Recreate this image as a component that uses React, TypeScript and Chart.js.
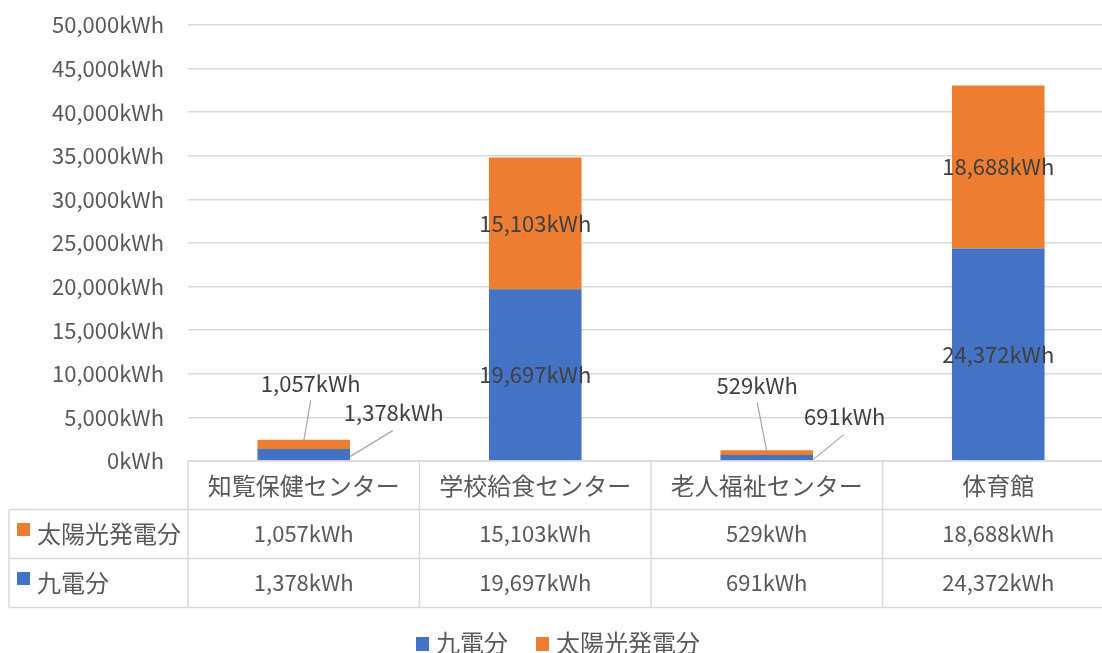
import React, { useEffect, useRef } from "react";
import { Chart, registerables } from "chart.js";

Chart.register(...registerables);

const categories = ["知覧保健センター", "学校給食センター", "老人福祉センター", "体育館"];
const kyudenValues = [1378, 19697, 691, 24372];
const solarValues = [1057, 15103, 529, 18688];
const seriesNames = ["九電分", "太陽光発電分"];
const yTicksMax = 50000;
const yTicksStep = 5000;

const BLUE = "#4472C4";
const ORANGE = "#ED7D31";
const FONT = '"Noto Sans CJK JP", "Noto Sans", sans-serif';
const NUM_FONT = `22px ${FONT}`;
const JP_FONT = `24px ${FONT}`;

const fmt = (v: number) => v.toLocaleString("en-US") + "kWh";

// label offsets for small bars (relative to bar center x / segment middle y)
const smallLabelOffsets: Record<string, [number, number]> = {
  "0-0": [90, -42],
  "1-0": [7, -61],
  "0-2": [78, -41],
  "1-2": [-9.5, -67],
};

const overlayPlugin = {
  id: "overlay",
  afterDatasetsDraw(chart: any) {
    const ctx = chart.ctx;
    const area = chart.chartArea;
    const xs = chart.scales.x;
    ctx.save();
    // data labels
    ctx.font = NUM_FONT;
    ctx.textAlign = "center";
    ctx.textBaseline = "middle";
    chart.data.datasets.forEach((ds: any, di: number) => {
      const meta = chart.getDatasetMeta(di);
      meta.data.forEach((bar: any, i: number) => {
        const top = Math.min(bar.y, bar.base);
        const bottom = Math.max(bar.y, bar.base);
        const midY = (top + bottom) / 2;
        const text = fmt(ds.data[i]);
        const key = `${di}-${i}`;
        const off = smallLabelOffsets[key];
        if (bottom - top < 30 && off) {
          const lx = bar.x + off[0];
          const ly = midY + off[1];
          ctx.strokeStyle = "#A6A6A6";
          ctx.lineWidth = 1.2;
          ctx.beginPath();
          if (di === 1) {
            ctx.moveTo(bar.x, top + 1);
            ctx.lineTo(lx, ly + 17);
          } else {
            ctx.moveTo(bar.x + bar.width / 2, midY + 2);
            ctx.lineTo(lx - 1, ly + 18);
          }
          ctx.stroke();
          ctx.fillStyle = "#404040";
          ctx.fillText(text, lx, ly);
        } else {
          ctx.fillStyle = "#404040";
          ctx.fillText(text, bar.x, midY);
        }
      });
    });

    // data table
    const n = categories.length;
    const colW = (area.right - area.left) / n;
    const tableLeft = 9;
    const rows = [area.bottom, area.bottom + 48.5, area.bottom + 97.5, area.bottom + 146.5];
    ctx.strokeStyle = "#D9D9D9";
    ctx.lineWidth = 1.5;
    ctx.beginPath();
    ctx.moveTo(area.left, rows[0]);
    ctx.lineTo(area.right, rows[0]);
    for (let r = 1; r < rows.length; r++) {
      ctx.moveTo(tableLeft, rows[r]);
      ctx.lineTo(area.right, rows[r]);
    }
    ctx.moveTo(tableLeft, rows[1]);
    ctx.lineTo(tableLeft, rows[3]);
    for (let c = 0; c <= n; c++) {
      const x = area.left + c * colW;
      ctx.moveTo(x, rows[0]);
      ctx.lineTo(x, rows[3]);
    }
    ctx.stroke();

    ctx.fillStyle = "#595959";
    ctx.textAlign = "center";
    ctx.textBaseline = "middle";
    categories.forEach((cat, i) => {
      const cx = xs.getPixelForValue(i);
      ctx.font = JP_FONT;
      ctx.fillText(cat, cx, (rows[0] + rows[1]) / 2 + 1);
      ctx.font = NUM_FONT;
      ctx.fillText(fmt(solarValues[i]), cx, (rows[1] + rows[2]) / 2);
      ctx.fillText(fmt(kyudenValues[i]), cx, (rows[2] + rows[3]) / 2);
    });
    // row headers
    ctx.font = JP_FONT;
    ctx.textAlign = "left";
    const rowSeries = [
      { name: seriesNames[1], color: ORANGE, y: (rows[1] + rows[2]) / 2 },
      { name: seriesNames[0], color: BLUE, y: (rows[2] + rows[3]) / 2 },
    ];
    rowSeries.forEach((s) => {
      ctx.fillStyle = s.color;
      ctx.fillRect(17, s.y - 11, 13, 13);
      ctx.fillStyle = "#595959";
      ctx.fillText(s.name, 37, s.y);
    });

    // legend
    const legendY = 643;
    const sq = 13;
    const gap = 7;
    const spacing = 28;
    const w0 = ctx.measureText(seriesNames[0]).width;
    const w1 = ctx.measureText(seriesNames[1]).width;
    const total = sq + gap + w0 + spacing + sq + gap + w1;
    let x = 558 - total / 2;
    [
      { name: seriesNames[0], color: BLUE, w: w0 },
      { name: seriesNames[1], color: ORANGE, w: w1 },
    ].forEach((it) => {
      ctx.fillStyle = it.color;
      ctx.fillRect(x, legendY - 6, sq, sq + 1);
      ctx.fillStyle = "#595959";
      ctx.fillText(it.name, x + sq + gap, legendY);
      x += sq + gap + it.w + spacing;
    });
    ctx.restore();
  },
};

export default function App() {
  const ref = useRef<HTMLCanvasElement>(null);
  useEffect(() => {
    if (!ref.current) return;
    const chart = new Chart(ref.current, {
      type: "bar",
      data: {
        labels: categories,
        datasets: [
          {
            label: seriesNames[0],
            data: kyudenValues,
            backgroundColor: BLUE,
            categoryPercentage: 1,
            barPercentage: 0.4,
          },
          {
            label: seriesNames[1],
            data: solarValues,
            backgroundColor: ORANGE,
            categoryPercentage: 1,
            barPercentage: 0.4,
          },
        ],
      },
      options: {
        animation: false,
        responsive: false,
        maintainAspectRatio: false,
        layout: { padding: { left: 0, top: 25, right: 16, bottom: 192 } },
        plugins: { legend: { display: false }, tooltip: { enabled: false } },
        scales: {
          x: { stacked: true, display: false },
          y: {
            stacked: true,
            min: 0,
            max: yTicksMax,
            border: { display: false },
            grid: { color: "#D9D9D9", lineWidth: 1.5, drawTicks: false },
            ticks: {
              stepSize: yTicksStep,
              padding: 24,
              color: "#595959",
              font: { size: 22, family: FONT },
              callback: (v: any) => fmt(Number(v)),
            },
            afterFit: (s: any) => {
              s.width = 188;
              s.paddingTop = 0;
              s.paddingBottom = 0;
            },
          },
        },
      },
      plugins: [overlayPlugin],
    });
    return () => chart.destroy();
  }, []);
  return (
    <div style={{ position: "fixed", left: 0, top: 0, width: 1102, height: 653, overflow: "hidden", background: "#fff" }}>
      <canvas ref={ref} width={1130} height={653} style={{ display: "block", width: 1130, height: 653 }} />
    </div>
  );
}
